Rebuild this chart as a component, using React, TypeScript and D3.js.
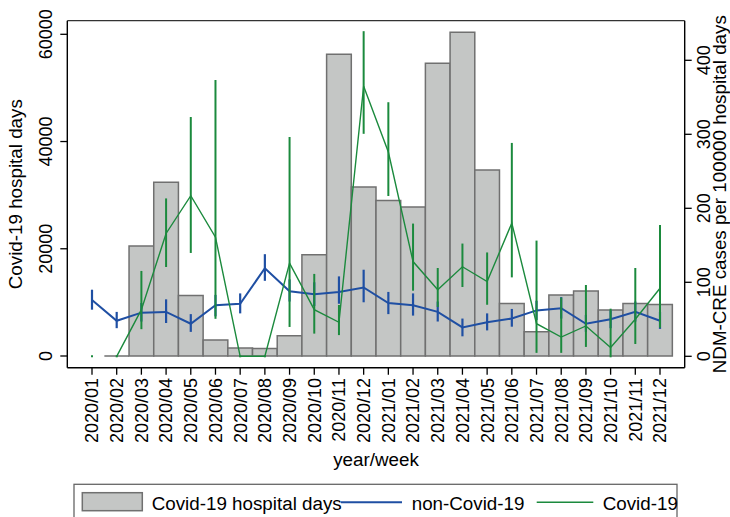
import React from "react";
import * as d3 from "d3";

// Months (year/week labels) shown on the x axis
const weeks = [
  "2020/01", "2020/02", "2020/03", "2020/04", "2020/05", "2020/06",
  "2020/07", "2020/08", "2020/09", "2020/10", "2020/11", "2020/12",
  "2021/01", "2021/02", "2021/03", "2021/04", "2021/05", "2021/06",
  "2021/07", "2021/08", "2021/09", "2021/10", "2021/11", "2021/12",
];

// Covid-19 hospital days (left axis)
const hospitalDays: (number | null)[] = [
  null, 0, 20500, 32400, 11300, 3000, 1500, 1400, 3800, 18900, 56300, 31500,
  29000, 27800, 54600, 60400, 34700, 9800, 4500, 11400, 12100, 8600, 9800, 9600,
];

// NDM-CRE cases per 100000 hospital days, non-Covid-19 patients (right axis)
const nonCovidRate = [
  76, 48, 59, 60, 44, 69, 71, 119, 88, 84, 87, 93,
  72, 69, 60, 39, 46, 51, 62, 65, 44, 50, 60, 48,
];
const nonCovidLow = [
  63, 38, 47, 45, 33, 54, 58, 102, 74, 68, 71, 73,
  57, 55, 47, 27, 35, 40, 49, 51, 33, 38, 47, 37,
];
const nonCovidHigh = [
  90, 60, 72, 77, 57, 83, 85, 138, 104, 100, 108, 117,
  87, 85, 74, 51, 58, 64, 75, 80, 56, 62, 74, 60,
];

// NDM-CRE cases per 100000 hospital days, Covid-19 patients (right axis)
const covidRate: (number | null)[] = [
  null, 0, 63, 166, 217, 161, 0, 0, 126, 63, 46, 365,
  276, 128, 90, 121, 101, 180, 44, 26, 41, 12, 50, 92,
];
const covidLow = [
  0, 0, 38, 122, 141, 52, 0, 0, 41, 32, 30, 302,
  218, 90, 68, 95, 71, 108, 6, 6, 14, 0, 18, 40,
];
const covidHigh = [
  0, 0, 114, 212, 322, 372, 0, 0, 295, 110, 68, 438,
  342, 178, 118, 151, 139, 287, 155, 78, 95, 63, 118, 176,
];

const leftTicks = [0, 20000, 40000, 60000];
const rightTicks = [0, 100, 200, 300, 400];

const W = 730;
const H = 517;
const FONT = "'Liberation Sans', Arial, Helvetica, sans-serif";
const BLUE = "#1f4fa3";
const GREEN = "#1b8a3d";
const BAR_FILL = "#c4c6c5";
const BAR_STROKE = "#707070";

export default function App() {
  const x = d3.scaleLinear().domain([0, weeks.length - 1]).range([92, 660]);
  const yL = d3.scaleLinear().domain([0, 60000]).range([356, 34.3]);
  const yR = d3.scaleLinear().domain([0, 400]).range([356.3, 60.3]);

  const left = x(-1);
  const right = x(weeks.length);
  const top = 20.7;
  const bottom = 367.7;

  const blueLine = d3
    .line<number>()
    .x((_, i) => x(i))
    .y((d) => yR(d));

  const greenLine = d3
    .line<number | null>()
    .defined((d) => d !== null)
    .x((_, i) => x(i))
    .y((d) => yR(d as number));

  const tickFs = 18;
  const titleFs = 18.8;
  const midY = (top + bottom) / 2;

  return (
    <svg
      width={W}
      height={H}
      style={{ position: "absolute", left: 0, top: 0, background: "#fff" }}
      fontFamily={FONT}
    >
      <rect x={0} y={0} width={W} height={H} fill="#fff" />

      {/* bars: Covid-19 hospital days */}
      {hospitalDays.map((v, i) =>
        v === null ? null : (
          <path
            key={"b" + i}
            d={`M${x(i - 0.5)},${yL(0)}V${yL(v)}H${x(i + 0.5)}V${yL(0)}Z`}
            fill={BAR_FILL}
            stroke={BAR_STROKE}
            strokeWidth={1.5}
          />
        )
      )}

      {/* non-Covid-19 rate with confidence intervals */}
      {nonCovidRate.map((_, i) => (
        <line
          key={"nb" + i}
          x1={x(i)}
          x2={x(i)}
          y1={yR(nonCovidLow[i])}
          y2={yR(nonCovidHigh[i])}
          stroke={BLUE}
          strokeWidth={2.2}
        />
      ))}
      <path d={blueLine(nonCovidRate) || ""} fill="none" stroke={BLUE} strokeWidth={2} />

      {/* Covid-19 rate with confidence intervals */}
      {covidLow.map((lo, i) => (
        <line
          key={"cb" + i}
          x1={x(i)}
          x2={x(i)}
          y1={yR(lo)}
          y2={yR(covidHigh[i])}
          stroke={GREEN}
          strokeWidth={2}
          strokeLinecap="square"
        />
      ))}
      <path d={greenLine(covidRate) || ""} fill="none" stroke={GREEN} strokeWidth={1.4} />

      {/* frame / axes */}
      <line x1={left} x2={right} y1={top} y2={top} stroke="#333" strokeWidth={1.3} />
      <line x1={left} x2={left} y1={top} y2={bottom} stroke="#000" strokeWidth={1.4} />
      <line x1={right} x2={right} y1={top} y2={bottom} stroke="#000" strokeWidth={1.4} />
      <line x1={left} x2={right} y1={bottom} y2={bottom} stroke="#000" strokeWidth={1.4} />

      {/* left axis */}
      {leftTicks.map((t) => (
        <g key={"lt" + t}>
          <line x1={left - 7} x2={left} y1={yL(t)} y2={yL(t)} stroke="#000" strokeWidth={1.3} />
          <text
            transform={`translate(52,${yL(t)}) rotate(-90)`}
            textAnchor="middle"
            fontSize={tickFs}
            fill="#000"
          >
            {t}
          </text>
        </g>
      ))}
      <text
        transform={`translate(21.5,${midY}) rotate(-90)`}
        textAnchor="middle"
        fontSize={titleFs}
        fill="#000"
      >
        Covid-19 hospital days
      </text>

      {/* right axis */}
      {rightTicks.map((t) => (
        <g key={"rt" + t}>
          <line x1={right} x2={right + 7} y1={yR(t)} y2={yR(t)} stroke="#000" strokeWidth={1.3} />
          <text
            transform={`translate(709.5,${yR(t)}) rotate(-90)`}
            textAnchor="middle"
            fontSize={tickFs}
            fill="#000"
          >
            {t}
          </text>
        </g>
      ))}
      <text
        transform={`translate(725.6,${midY}) rotate(-90)`}
        textAnchor="middle"
        fontSize={titleFs}
        fill="#000"
      >
        NDM-CRE cases per 100000 hospital days
      </text>

      {/* x axis */}
      {weeks.map((w, i) => (
        <g key={"xt" + w}>
          <line x1={x(i)} x2={x(i)} y1={bottom} y2={bottom + 7} stroke="#000" strokeWidth={1.3} />
          <text
            transform={`translate(${x(i) + 6.4},378) rotate(-90)`}
            textAnchor="end"
            fontSize={tickFs}
            fill="#000"
          >
            {w}
          </text>
        </g>
      ))}
      <text x={(left + right) / 2} y={466} textAnchor="middle" fontSize={titleFs} fill="#000">
        year/week
      </text>

      {/* legend */}
      <rect x={74} y={484.3} width={603} height={60} fill="#fff" stroke="#666" strokeWidth={1.3} />
      <rect x={82.3} y={492.7} width={60} height={18} fill={BAR_FILL} stroke={BAR_STROKE} strokeWidth={1.5} />
      <text x={151.7} y={510} fontSize={titleFs} fill="#000">
        Covid-19 hospital days
      </text>
      <line x1={341} x2={402} y1={502.3} y2={502.3} stroke={BLUE} strokeWidth={2} />
      <text x={411.7} y={510} fontSize={titleFs} fill="#000">
        non-Covid-19
      </text>
      <line x1={536.7} x2={593.3} y1={502.3} y2={502.3} stroke={GREEN} strokeWidth={1.4} />
      <text x={602.7} y={510} fontSize={titleFs} fill="#000">
        Covid-19
      </text>
    </svg>
  );
}
